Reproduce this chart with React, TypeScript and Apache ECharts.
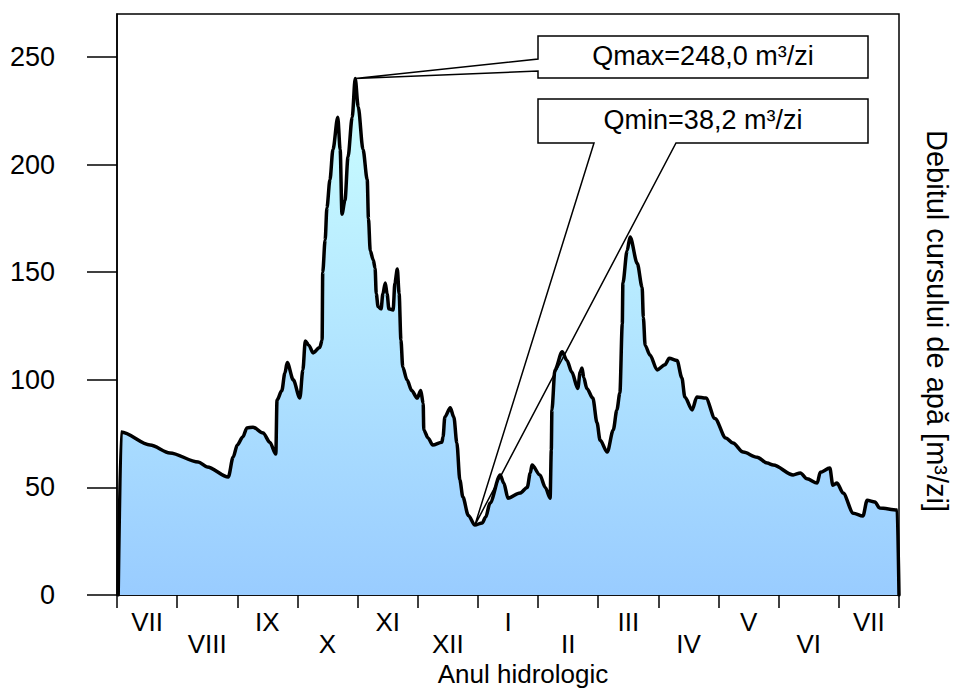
import React, { useEffect, useRef } from "react";
import * as echarts from "echarts";

const monthLabels = ["VII", "VIII", "IX", "X", "XI", "XII", "I", "II", "III", "IV", "V", "VI", "VII"];
const yTicks = [0, 50, 100, 150, 200, 250];

// position along the hydrological year, in months from the start of July
const monthPos = [
  0.02, 0.07, 0.55, 0.88, 1.35, 1.5, 1.85, 1.93, 2.0, 2.09, 2.16, 2.26, 2.43, 2.54, 2.64, 2.66,
  2.74, 2.79, 2.83, 2.93, 3.04, 3.09, 3.13, 3.19, 3.26, 3.37, 3.41, 3.42, 3.46, 3.49, 3.54, 3.59,
  3.67, 3.71, 3.74, 3.79, 3.84, 3.91, 3.96, 4.01, 4.09, 4.16, 4.18, 4.21, 4.26, 4.29, 4.31, 4.34,
  4.39, 4.42, 4.46, 4.49, 4.52, 4.59, 4.62, 4.66, 4.69, 4.72, 4.75, 4.82, 4.9, 4.99, 5.05, 5.09,
  5.1, 5.17, 5.25, 5.4, 5.42, 5.45, 5.54, 5.6, 5.65, 5.7, 5.75, 5.84, 5.95, 6.07, 6.13, 6.2,
  6.37, 6.43, 6.5, 6.7, 6.82, 6.87, 6.9, 7.03, 7.12, 7.2, 7.22, 7.23, 7.28, 7.4, 7.48, 7.56,
  7.66, 7.7, 7.73, 7.76, 7.81, 7.91, 7.98, 8.03, 8.15, 8.25, 8.31, 8.36, 8.4, 8.41, 8.48, 8.53,
  8.65, 8.73, 8.75, 8.78, 8.86, 8.98, 9.11, 9.18, 9.31, 9.39, 9.44, 9.56, 9.64, 9.79, 9.94, 10.12,
  10.24, 10.41, 10.64, 10.81, 10.91, 11.24, 11.36, 11.47, 11.64, 11.69, 11.85, 11.9, 11.97, 12.07, 12.24, 12.4,
  12.47, 12.6, 12.68, 12.97, 13.0,
];

// discharge, m³/zi
const flowValues = [
  0, 75.7, 69.7, 66, 61.8, 59.5, 54.8, 64, 69.7, 73.4, 77.6, 78, 75.3, 71, 65.5, 90.6,
  95, 103, 108, 100, 91.5, 104.6, 118, 116, 112.5, 115, 118.5, 150, 165, 180, 193, 207,
  222, 207, 177, 183.5, 203.5, 222, 240, 226.8, 207, 193, 175, 160, 155.7, 152, 140, 134,
  133, 140, 145, 140, 133, 132.4, 145, 151.5, 140, 118.5, 106, 100, 95, 91.5, 95, 89,
  76.7, 73, 69.7, 71, 73.4, 82.7, 87, 82.7, 70.6, 53.4, 45.5, 37, 32.5, 33.5, 36.2, 42.7,
  55.8, 52, 45, 47.4, 50, 56.7, 60.4, 55.8, 50, 45, 67.4, 86, 104.6, 113, 109, 103.6,
  96, 103.6, 105.5, 101, 96, 91.5, 80, 72, 66.4, 76.7, 86, 93.9, 126, 145, 160, 166.4,
  154, 143, 129, 116, 111.5, 104.6, 107, 110, 109, 101, 92, 86, 92, 91.5, 82, 73,
  70.6, 66.4, 64, 61.3, 60.4, 55.8, 56.7, 54, 52, 57, 59, 51, 52, 47.4, 38, 36.7,
  44, 43.2, 40.4, 39.5, 0,
];

const qmaxLabel = "Qmax=248,0 m³/zi";
const qminLabel = "Qmin=38,2 m³/zi";
const xTitle = "Anul hidrologic";
const yTitle = "Debitul cursului de apă [m³/zi]";

const FONT = "'Liberation Sans', Arial, Helvetica, sans-serif";

export default function App() {
  const ref = useRef<HTMLDivElement>(null);

  useEffect(() => {
    document.body.style.margin = "0";
    const chart = echarts.init(ref.current!, null, { renderer: "svg" });
    const seriesData = monthPos.map((m, i) => [m, flowValues[i]]);

    chart.setOption({
      animation: false,
      backgroundColor: "#ffffff",
      textStyle: { fontFamily: FONT, color: "#000" },
      grid: {
        left: 117,
        right: 59,
        top: 14,
        bottom: 93,
        show: true,
        borderColor: "#000",
        borderWidth: 1.5,
        backgroundColor: "transparent",
      },
      xAxis: [
        {
          type: "value",
          min: 0,
          max: 13,
          interval: 1,
          position: "bottom",
          axisLine: { show: true, lineStyle: { color: "#000", width: 1.5 } },
          axisTick: { show: true, inside: false, length: 13, lineStyle: { color: "#000", width: 1.5 } },
          axisLabel: { show: false },
          splitLine: { show: false },
        },
        {
          type: "category",
          data: monthLabels,
          position: "bottom",
          offset: 0,
          boundaryGap: true,
          axisLine: { show: false },
          axisTick: { show: false },
          splitLine: { show: false },
          axisLabel: {
            interval: (i: number) => i % 2 === 0,
            margin: 16,
            fontSize: 26,
            lineHeight: 22,
            fontFamily: FONT,
            color: "#000",
          },
        },
        {
          type: "category",
          data: monthLabels,
          position: "bottom",
          offset: 0,
          boundaryGap: true,
          axisLine: { show: false },
          axisTick: { show: false },
          splitLine: { show: false },
          axisLabel: {
            interval: (i: number) => i % 2 === 1,
            margin: 38,
            fontSize: 26,
            lineHeight: 22,
            fontFamily: FONT,
            color: "#000",
          },
        },
      ],
      yAxis: {
        type: "value",
        min: 0,
        max: 270,
        axisLine: { show: true, lineStyle: { color: "#000", width: 1.5 } },
        axisTick: {
          show: true,
          inside: false,
          length: 30,
          customValues: yTicks,
          lineStyle: { color: "#000", width: 1.5 },
        },
        axisLabel: {
          customValues: yTicks,
          margin: 62,
          fontSize: 27,
          fontFamily: FONT,
          color: "#000",
          padding: [0, 0, 10, 0],
        },
        splitLine: { show: false },
      },
      series: [
        {
          type: "line",
          xAxisIndex: 0,
          yAxisIndex: 0,
          data: seriesData,
          symbol: "none",
          showSymbol: false,
          smooth: 0.3,
          smoothMonotone: "x",
          lineStyle: { color: "#000", width: 3.5, join: "round", cap: "round" },
          areaStyle: {
            opacity: 1,
            color: new echarts.graphic.LinearGradient(0, 0, 0, 1, [
              { offset: 0, color: "#ccffff" },
              { offset: 1, color: "#99ccff" },
            ]),
          },
          z: 2,
        },
      ],
    });

    const inner = flowValues.slice(1, -1);
    const maxIdx = flowValues.indexOf(Math.max(...flowValues));
    const minIdx = 1 + inner.indexOf(Math.min(...inner));
    const tipMax = chart.convertToPixel({ seriesIndex: 0 }, [monthPos[maxIdx], flowValues[maxIdx]]) as number[];
    const tipMin = chart.convertToPixel({ seriesIndex: 0 }, [monthPos[minIdx], flowValues[minIdx]]) as number[];

    const textStyle = { fontSize: 27, fontFamily: FONT, fill: "#000", align: "center", verticalAlign: "middle" };

    chart.setOption({
      graphic: [
        { type: "rect", z: 10, shape: { x: 538, y: 36, width: 330, height: 42 }, style: { fill: "#fff", stroke: "none" } },
        {
          type: "polygon",
          z: 11,
          shape: {
            points: [
              [538, 36], [868, 36], [868, 78], [538, 78], [538, 71],
              [tipMax[0], tipMax[1]], [538, 59],
            ],
          },
          style: { fill: "none", stroke: "#000", lineWidth: 1.5 },
        },
        { type: "text", z: 12, x: 703, y: 56, style: { ...textStyle, text: qmaxLabel } },
        { type: "rect", z: 10, shape: { x: 538, y: 99, width: 330, height: 44 }, style: { fill: "#fff", stroke: "none" } },
        {
          type: "polygon",
          z: 11,
          shape: {
            points: [
              [538, 99], [868, 99], [868, 143], [676, 143],
              [tipMin[0], tipMin[1]], [594, 143], [538, 143],
            ],
          },
          style: { fill: "none", stroke: "#000", lineWidth: 1.5 },
        },
        { type: "text", z: 12, x: 703, y: 120, style: { ...textStyle, text: qminLabel } },
        { type: "text", z: 12, x: 523, y: 673.5, style: { ...textStyle, fontSize: 26, lineHeight: 22, text: xTitle } },
        {
          type: "text",
          z: 12,
          x: 937,
          y: 321,
          rotation: -Math.PI / 2,
          style: { ...textStyle, fontSize: 29, text: yTitle },
        },
      ],
    });

    return () => chart.dispose();
  }, []);

  return <div ref={ref} style={{ width: 958, height: 688 }} />;
}
